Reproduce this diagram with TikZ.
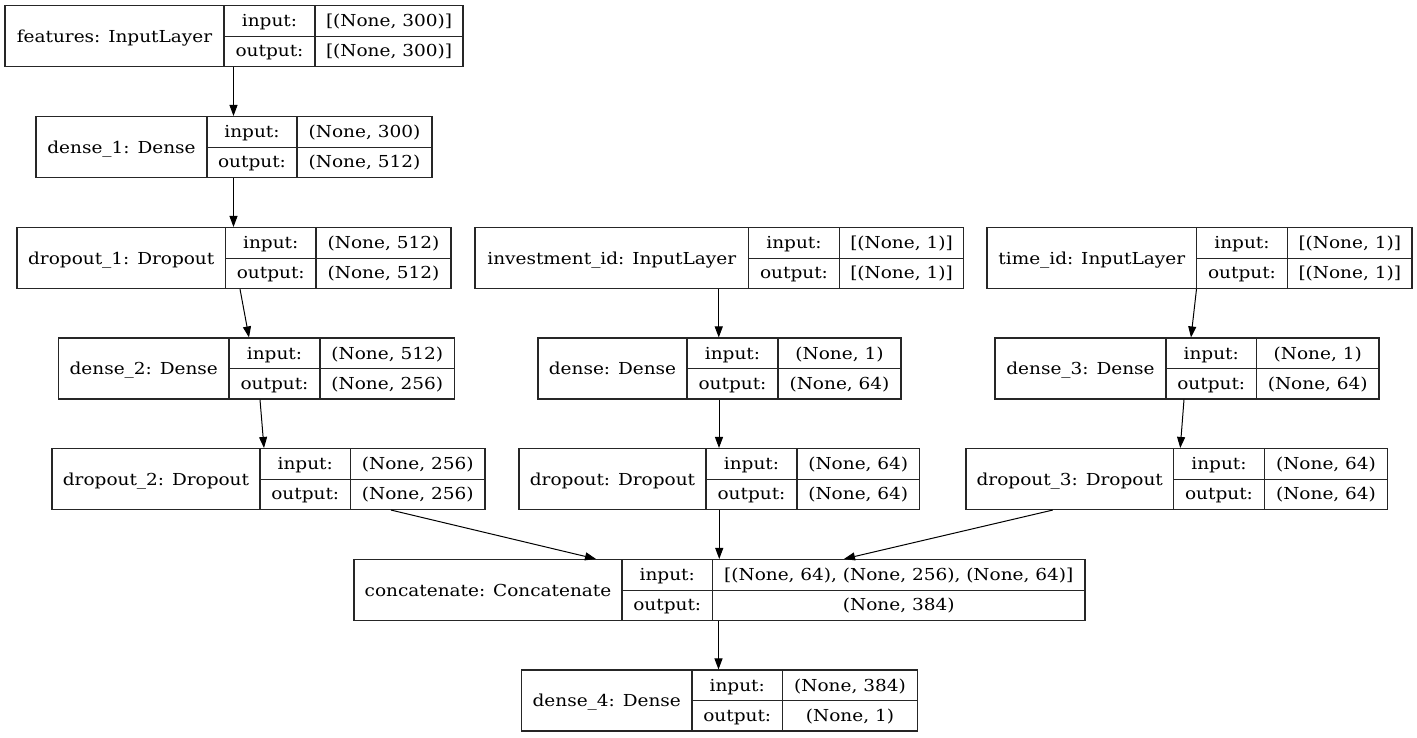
\documentclass[tikz,border=0pt]{standalone}
\usepackage{fontspec}
\setmainfont{DejaVu Serif}[FakeStretch=1.12]
\usetikzlibrary{fit,calc,arrows.meta}
\tikzset{
  boxline/.style={draw=black!85, line width=1.1pt},
  txt/.style={inner sep=0pt, anchor=base, font=\fontsize{16.5pt}{19pt}\selectfont},
  edge/.style={draw=black, line width=1pt, -{Triangle[length=11pt,width=8pt]}},
}
% name, xl, xd1, xd2, xr, ytop, label, in, out
\newcommand\klayer[9]{%
  \coordinate (#1-a) at (#2,#6);
  \coordinate (#1-b) at (#5,{#6+61});
  \node[fit=(#1-a)(#1-b), inner sep=0pt, boxline] (#1) {};
  \draw[boxline] (#3,#6) -- (#3,{#6+61});
  \draw[boxline] (#4,#6) -- (#4,{#6+61});
  \draw[boxline] (#3,{#6+30.8}) -- (#5,{#6+30.8});
  \node[txt] (#1-l) at ({(#2+#3)/2},{#6+36.5}) {#7};
  \node[txt] (#1-il) at ({(#3+#4)/2},{#6+21}) {input:};
  \node[txt] (#1-iv) at ({(#4+#5)/2},{#6+21}) {#8};
  \node[txt] (#1-ol) at ({(#3+#4)/2},{#6+51.2}) {output:};
  \node[txt] (#1-ov) at ({(#4+#5)/2},{#6+51.2}) {#9};
}
\begin{document}
\begin{tikzpicture}[x=1pt,y=-1pt]
\useasboundingbox (0,0) rectangle (1417,737);
\fill[white] (0,0) rectangle (1417,737);
\klayer{feat}{5}{224}{315}{463}{5.5}{features: InputLayer}{[(None, 300)]}{[(None, 300)]}
\klayer{d1}{36}{207}{297}{432}{116.5}{dense\_1: Dense}{(None, 300)}{(None, 512)}
\klayer{do1}{17}{225.5}{316}{451}{227.5}{dropout\_1: Dropout}{(None, 512)}{(None, 512)}
\klayer{inv}{475}{748.5}{839.5}{963.5}{227.5}{investment\_id: InputLayer}{[(None, 1)]}{[(None, 1)]}
\klayer{tid}{987}{1196.5}{1287.5}{1412}{227.5}{time\_id: InputLayer}{[(None, 1)]}{[(None, 1)]}
\klayer{d2}{58.5}{229}{320}{454.5}{338}{dense\_2: Dense}{(None, 512)}{(None, 256)}
\klayer{d0}{538}{687}{778}{901}{338}{dense: Dense}{(None, 1)}{(None, 64)}
\klayer{d3}{995}{1166}{1256.5}{1379}{338}{dense\_3: Dense}{(None, 1)}{(None, 64)}
\klayer{do2}{52}{260}{350.5}{485}{448.5}{dropout\_2: Dropout}{(None, 256)}{(None, 256)}
\klayer{do0}{519}{706}{797}{919.5}{448.5}{dropout: Dropout}{(None, 64)}{(None, 64)}
\klayer{do3}{966}{1173.5}{1264.5}{1387.5}{448.5}{dropout\_3: Dropout}{(None, 64)}{(None, 64)}
\klayer{cat}{354}{622}{712.5}{1085}{559.5}{concatenate: Concatenate}{[(None, 64), (None, 256), (None, 64)]}{(None, 384)}
\klayer{d4}{521.5}{692}{782.5}{917.5}{670}{dense\_4: Dense}{(None, 384)}{(None, 1)}
% connectors
\draw[edge] ([xshift=-0.5pt]feat.south) -- ([xshift=-0.5pt]feat.south |- d1.north);
\draw[edge] ([xshift=-0.5pt]d1.south) -- ([xshift=-0.5pt]d1.south |- do1.north);
\draw[edge] ([xshift=6pt]do1.south) -- ([xshift=-7.5pt]d2.north);
\draw[edge] ([xshift=3.5pt]d2.south) -- ([xshift=-4.5pt]do2.north);
\draw[edge] ([xshift=122.5pt]do2.south) -- ([xshift=-123.5pt]cat.north);
\draw[edge] ([xshift=-0.5pt]inv.south) -- ([xshift=-0.5pt]inv.south |- d0.north);
\draw[edge] ([xshift=-0.5pt]d0.south) -- ([xshift=-0.5pt]d0.south |- do0.north);
\draw[edge] (do0.south) -- (do0.south |- cat.north);
\draw[edge] ([xshift=-3pt]tid.south) -- ([xshift=4pt]d3.north);
\draw[edge] ([xshift=-3pt]d3.south) -- ([xshift=3.5pt]do3.north);
\draw[edge] ([xshift=-124pt]do3.south) -- ([xshift=124.5pt]cat.north);
\draw[edge] ([xshift=-1pt]cat.south) -- ([xshift=-1pt]cat.south |- d4.north);
\end{tikzpicture}
\end{document}
